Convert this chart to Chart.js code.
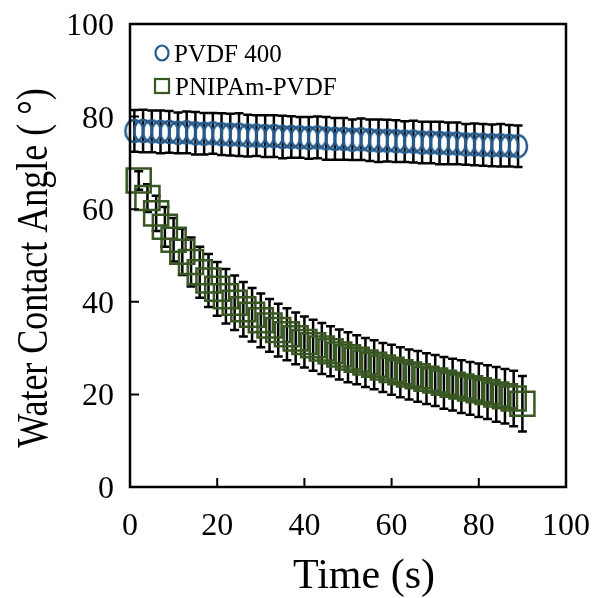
<!DOCTYPE html>
<html>
<head>
<meta charset="utf-8">
<script src="https://cdn.jsdelivr.net/npm/chart.js@4.4.1/dist/chart.umd.min.js"></script>
<style>
  html, body { margin: 0; padding: 0; background: #fff; }
  #wrap { width: 595px; height: 598px; }
</style>
</head>
<body>
<div id="wrap"><canvas id="chart" width="595" height="598"></canvas></div>
<script>
// time points (s)
const pvdfTime = [1, 3, 5, 7, 9, 11, 13, 15, 17, 19, 21, 23, 25, 27, 29, 31, 33, 35, 37, 39, 41, 43, 45,
    47, 49, 51, 53, 55, 57, 59, 61, 63, 65, 67, 69, 71, 73, 75, 77, 79, 81, 83, 85, 87, 89];
const pnipamTime = [2, 4, 6, 8, 10, 12, 14, 16, 18, 20, 22, 24, 26, 28, 30, 32, 34, 36, 38, 40, 42, 44, 46,
    48, 50, 52, 54, 56, 58, 60, 62, 64, 66, 68, 70, 72, 74, 76, 78, 80, 82, 84, 86, 88, 90];

// PVDF 400 contact angle + error
const pvdfAngle = [76.9, 76.9, 76.8, 76.7, 76.7, 76.5, 76.6, 76.4, 76.3, 76.4, 76.2, 76.1, 76.1, 75.9, 75.9,
    75.8, 75.8, 75.6, 75.6, 75.5, 75.4, 75.5, 75.3, 75.2, 75.2, 75.0, 75.1, 74.9, 74.8, 74.8, 74.7,
    74.6, 74.6, 74.4, 74.4, 74.3, 74.2, 74.2, 74.0, 74.0, 73.9, 73.8, 73.8, 73.7, 73.6];
const pvdfErr = [4.5, 4.6, 4.5, 4.6, 4.5, 4.4, 4.5, 4.6, 4.5, 4.4, 4.5, 4.5, 4.6, 4.5, 4.4, 4.5, 4.5, 4.6,
    4.5, 4.4, 4.5, 4.5, 4.6, 4.5, 4.5, 4.4, 4.5, 4.5, 4.6, 4.5, 4.5, 4.4, 4.5, 4.5, 4.5, 4.6, 4.5,
    4.5, 4.4, 4.5, 4.5, 4.5, 4.6, 4.5, 4.5];

// PNIPAm-PVDF contact angle + error
const pnipamAngle = [66.2, 62.4, 59.1, 56.2, 53.4, 50.8, 48.6, 46.4, 44.6, 42.8, 41.2, 39.8, 38.4, 37.2, 36.0,
    34.9, 33.9, 33.0, 32.1, 31.3, 30.6, 29.9, 29.3, 28.6, 28.0, 27.5, 26.9, 26.4, 25.8, 25.3, 24.8,
    24.3, 23.9, 23.4, 23.0, 22.5, 22.1, 21.7, 21.3, 20.9, 20.5, 20.0, 19.6, 19.1, 18.0];
const pnipamErr = [2.0, 3.0, 3.8, 4.3, 4.7, 5.0, 5.3, 5.5, 5.7, 5.8, 5.9, 5.9, 5.9, 5.8, 5.8, 5.7, 5.7, 5.6,
    5.6, 5.5, 5.5, 5.5, 5.4, 5.4, 5.4, 5.3, 5.3, 5.3, 5.3, 5.4, 5.4, 5.4, 5.5, 5.5, 5.5, 5.6, 5.6,
    5.7, 5.7, 5.8, 5.8, 5.9, 5.9, 6.0, 6.0];

const xTicks = [0, 20, 40, 60, 80, 100];
const yTicks = [0, 20, 40, 60, 80, 100];

const blue = "#255A8C";
const green = "#385723";
const serif = "'Liberation Serif', 'Times New Roman', serif";

function pts(xs, ys) {
    return xs.map((x, i) => ({ x: x, y: ys[i] }));
}

// open oval marker, a bit taller than wide like the original
function ovalMarker() {
    const c = document.createElement("canvas");
    c.width = 24; c.height = 28;
    const g = c.getContext("2d");
    g.strokeStyle = blue;
    g.lineWidth = 2.5;
    g.beginPath();
    g.ellipse(12, 14, 9, 11, 0, 0, Math.PI * 2);
    g.stroke();
    return c;
}

// error bars, box, inner ticks, labels, titles and legend
const extras = {
    id: "extras",
    beforeDatasetsDraw(chart) {
        const ctx = chart.ctx;
        const xs = chart.scales.x, ys = chart.scales.y;
        const sets = [[pvdfTime, pvdfAngle, pvdfErr], [pnipamTime, pnipamAngle, pnipamErr]];
        ctx.save();
        ctx.strokeStyle = "#000";
        ctx.lineWidth = 2.5;
        sets.forEach(s => {
            s[0].forEach((t, i) => {
                const px = xs.getPixelForValue(t);
                const top = ys.getPixelForValue(s[1][i] + s[2][i]);
                const bot = ys.getPixelForValue(s[1][i] - s[2][i]);
                ctx.beginPath();
                ctx.moveTo(px, top); ctx.lineTo(px, bot);
                ctx.moveTo(px - 4.5, top); ctx.lineTo(px + 4.5, top);
                ctx.moveTo(px - 4.5, bot); ctx.lineTo(px + 4.5, bot);
                ctx.stroke();
            });
        });
        ctx.restore();
    },
    afterDraw(chart) {
        const ctx = chart.ctx;
        const a = chart.chartArea;
        const xs = chart.scales.x, ys = chart.scales.y;
        ctx.save();
        ctx.strokeStyle = "#000";
        ctx.lineWidth = 2.5;
        ctx.strokeRect(a.left, a.top, a.right - a.left, a.bottom - a.top);
        ctx.lineWidth = 2;
        ctx.beginPath();
        xTicks.slice(1, -1).forEach(v => {
            const px = xs.getPixelForValue(v);
            ctx.moveTo(px, a.bottom); ctx.lineTo(px, a.bottom - 9);
        });
        yTicks.slice(1, -1).forEach(v => {
            const py = ys.getPixelForValue(v);
            ctx.moveTo(a.left, py); ctx.lineTo(a.left + 9, py);
        });
        ctx.stroke();

        // tick labels
        ctx.fillStyle = "#000";
        ctx.font = "32px " + serif;
        ctx.textAlign = "center";
        ctx.textBaseline = "alphabetic";
        xTicks.forEach(v => ctx.fillText(String(v), xs.getPixelForValue(v), 535));
        ctx.textAlign = "right";
        yTicks.forEach(v => ctx.fillText(String(v), 114, ys.getPixelForValue(v) + 11));

        // axis titles
        ctx.font = "42px " + serif;
        ctx.textAlign = "center";
        ctx.fillText("Time (s)", 364, 588);
        ctx.save();
        ctx.translate(47, 268);
        ctx.rotate(-Math.PI / 2);
        ctx.scale(0.8, 1);
        ctx.font = "45px " + serif;
        ctx.fillText("Water Contact Angle ( °)", 0, 0);
        ctx.restore();

        // legend
        ctx.font = "25px " + serif;
        ctx.textAlign = "left";
        ctx.textBaseline = "alphabetic";
        ctx.lineWidth = 2.2;
        ctx.strokeStyle = blue;
        ctx.beginPath();
        ctx.ellipse(162, 53, 6.5, 7.5, 0, 0, Math.PI * 2);
        ctx.stroke();
        ctx.fillText(chart.data.datasets[0].label, 174, 62);
        ctx.strokeStyle = green;
        ctx.strokeRect(155, 79, 14, 14);
        ctx.fillText(chart.data.datasets[1].label, 175, 95);
        ctx.restore();
    }
};

const config = {
    type: "scatter",
    data: {
        datasets: [
            {
                label: "PVDF 400",
                data: pts(pvdfTime, pvdfAngle),
                pointStyle: ovalMarker(),
                borderColor: blue,
                backgroundColor: "rgba(0,0,0,0)",
                clip: false,
            },
            {
                label: "PNIPAm-PVDF",
                data: pts(pnipamTime, pnipamAngle),
                pointStyle: "rect",
                pointRadius: 17,
                borderColor: green,
                backgroundColor: "rgba(0,0,0,0)",
                borderWidth: 2.5,
                clip: false,
            },
        ],
    },
    options: {
        responsive: false,
        animation: false,
        events: [],
        devicePixelRatio: 1,
        layout: { padding: { top: 24, right: 29, left: 0, bottom: 0 } },
        plugins: { legend: { display: false }, tooltip: { enabled: false } },
        scales: {
            x: {
                type: "linear",
                min: 0,
                max: 100,
                afterFit: s => { s.height = 111; },
                grid: { display: false, drawTicks: false },
                border: { display: false },
                ticks: { display: false },
            },
            y: {
                type: "linear",
                min: 0,
                max: 100,
                afterFit: s => { s.width = 130; },
                grid: { display: false, drawTicks: false },
                border: { display: false },
                ticks: { display: false },
            },
        },
    },
    plugins: [extras],
};

const myChart = new Chart(document.getElementById("chart"), config);
</script>
</body>
</html>
